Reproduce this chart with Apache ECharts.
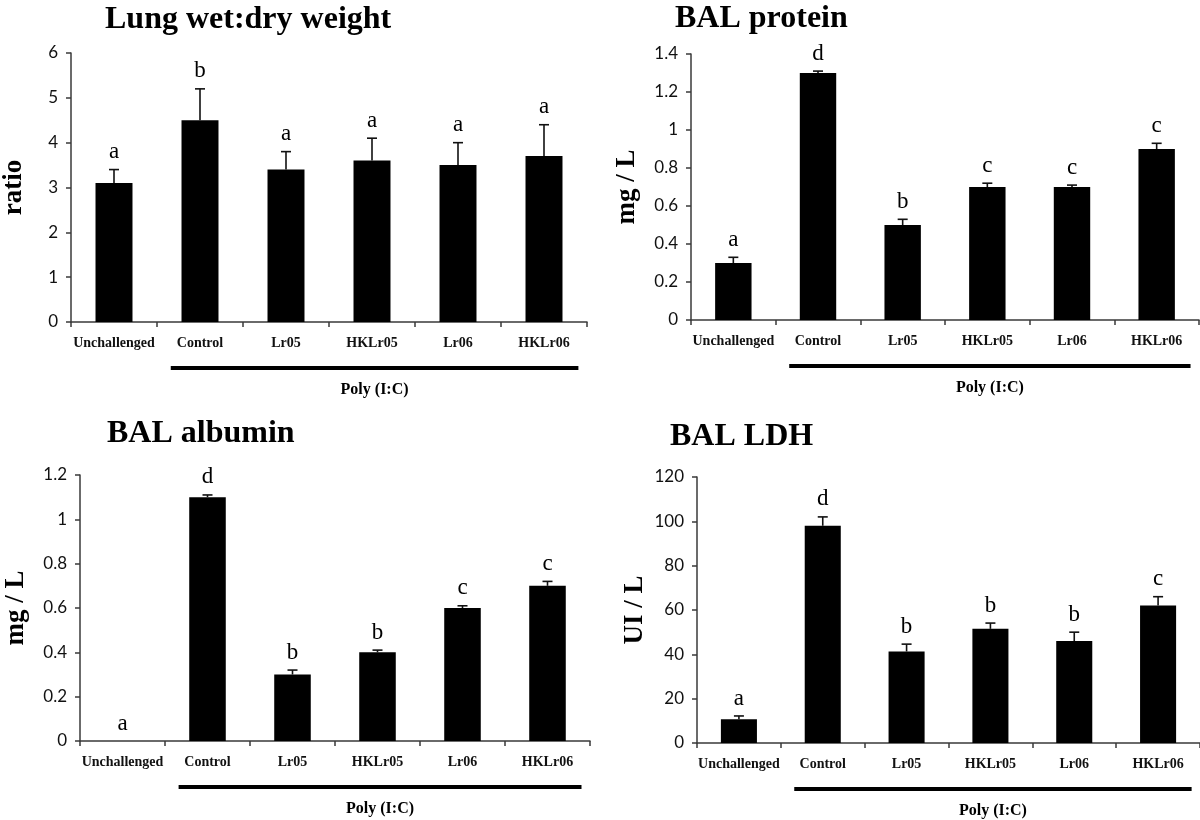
<!DOCTYPE html>
<html>
<head>
<meta charset="utf-8">
<script src="https://cdn.jsdelivr.net/npm/echarts@6/dist/echarts.min.js"></script>
<style>
html,body{margin:0;padding:0;background:#fff;}
#c{width:1200px;height:820px;}
</style>
</head>
<body>
<div id="c"></div>
<script>
// ---- data ----
const categories = ['Unchallenged', 'Control', 'Lr05', 'HKLr05', 'Lr06', 'HKLr06'];
const groupLabel = 'Poly (I:C)';

const titles = ['Lung wet:dry weight', 'BAL protein', 'BAL albumin', 'BAL LDH'];
const yNames = ['ratio', 'mg / L', 'mg / L', 'UI / L'];

const wetDryMean = [3.1, 4.5, 3.4, 3.6, 3.5, 3.7];
const wetDryErr = [0.3, 0.7, 0.4, 0.5, 0.5, 0.7];
const wetDryLetters = ['a', 'b', 'a', 'a', 'a', 'a'];

const proteinMean = [0.3, 1.3, 0.5, 0.7, 0.7, 0.9];
const proteinErr = [0.03, 0.01, 0.03, 0.02, 0.01, 0.03];
const proteinLetters = ['a', 'd', 'b', 'c', 'c', 'c'];

const albuminMean = [0, 1.1, 0.3, 0.4, 0.6, 0.7];
const albuminErr = [0, 0.01, 0.02, 0.01, 0.01, 0.02];
const albuminLetters = ['a', 'd', 'b', 'b', 'c', 'c'];

const ldhMean = [10.7, 98, 41.3, 51.5, 46, 62];
const ldhErr = [1.5, 4, 3.3, 2.6, 4, 4];
const ldhLetters = ['a', 'd', 'b', 'b', 'b', 'c'];

// y-axis ticks: [min, max, interval]
const wetDryTicks = [0, 6, 1];
const proteinTicks = [0, 1.4, 0.2];
const albuminTicks = [0, 1.2, 0.2];
const ldhTicks = [0, 120, 20];

// ---- layout / style ----
const SERIF = '"Liberation Serif", "Times New Roman", serif';
const SANS = 'Lato, Calibri, sans-serif';
const panels = [
  {mean: wetDryMean, err: wetDryErr, letters: wetDryLetters, ticks: wetDryTicks,
   grid: {left: 67, right: 613, top: 53, bottom: 498}, title: {left: 105, top: 4}, nameGap: 43},
  {mean: proteinMean, err: proteinErr, letters: proteinLetters, ticks: proteinTicks,
   grid: {left: 691, right: 1, top: 54, bottom: 500}, title: {left: 675, top: 3}, nameGap: 50},
  {mean: albuminMean, err: albuminErr, letters: albuminLetters, ticks: albuminTicks,
   grid: {left: 80, right: 610, top: 475, bottom: 79}, title: {left: 107, top: 418}, nameGap: 50},
  {mean: ldhMean, err: ldhErr, letters: ldhLetters, ticks: ldhTicks,
   grid: {left: 697, right: -2, top: 477, bottom: 77}, title: {left: 670, top: 421}, nameGap: 48}
];

const axisColor = '#3a3a3a';
const chart = echarts.init(document.getElementById('c'), null, {renderer: 'canvas'});

function errRender(letters) {
  return function (params, api) {
    const i = api.value(0), m = api.value(1), e = api.value(2);
    const base = api.coord([i, m]);
    const top = api.coord([i, m + e]);
    const children = [];
    if (e > 0) {
      children.push({type: 'line', shape: {x1: base[0], y1: base[1], x2: top[0], y2: top[1]},
        style: {stroke: '#111', lineWidth: 1.6}});
      children.push({type: 'line', shape: {x1: top[0] - 5, y1: top[1], x2: top[0] + 5, y2: top[1]},
        style: {stroke: '#111', lineWidth: 1.6}});
    }
    children.push({type: 'text', x: top[0], y: top[1] - 6,
      style: {text: letters[params.dataIndex], align: 'center', verticalAlign: 'bottom',
        fontFamily: SERIF, fontSize: 23, fill: '#000'}});
    return {type: 'group', children};
  };
}

const option = {
  backgroundColor: '#fff',
  animation: false,
  title: panels.map((p, k) => ({
    text: titles[k], left: p.title.left, top: p.title.top, padding: 0,
    textStyle: {fontFamily: SERIF, fontWeight: 'bold', fontSize: 32, color: '#000'}
  })),
  grid: panels.map(p => Object.assign({containLabel: false}, p.grid)),
  xAxis: panels.map((p, k) => ({
    type: 'category', gridIndex: k, data: categories,
    axisLine: {lineStyle: {color: axisColor, width: 1.5}},
    axisTick: {show: true, length: 5, lineStyle: {color: axisColor, width: 1.5}},
    axisLabel: {interval: 0, margin: 14, fontFamily: SERIF, fontWeight: 'bold', fontSize: 14, color: '#111'},
    splitLine: {show: false}
  })),
  yAxis: panels.map((p, k) => ({
    type: 'value', gridIndex: k, min: p.ticks[0], max: p.ticks[1], interval: p.ticks[2],
    name: yNames[k], nameLocation: 'middle', nameRotate: 90, nameGap: p.nameGap,
    nameTextStyle: {fontFamily: SERIF, fontWeight: 'bold', fontSize: 27, color: '#000'},
    axisLine: {show: true, lineStyle: {color: axisColor, width: 1.5}},
    axisTick: {show: true, length: 5, lineStyle: {color: axisColor, width: 1.5}},
    axisLabel: {margin: 13, fontFamily: SANS, fontSize: 17, color: '#111'},
    splitLine: {show: false}
  })),
  series: []
};

panels.forEach((p, k) => {
  option.series.push({
    type: 'bar', xAxisIndex: k, yAxisIndex: k, data: p.mean,
    barWidth: '43%', itemStyle: {color: '#000'}, z: 2
  });
  option.series.push({
    type: 'custom', xAxisIndex: k, yAxisIndex: k,
    data: p.mean.map((v, i) => [i, v, p.err[i]]),
    encode: {x: 0, y: 1},
    renderItem: errRender(p.letters), z: 3
  });
});

chart.setOption(option);

// group bracket under the Poly (I:C) categories, positioned from the axes
const graphics = [];
panels.forEach((p, k) => {
  const c1 = chart.convertToPixel({xAxisIndex: k, yAxisIndex: k}, [1, 0]);
  const c5 = chart.convertToPixel({xAxisIndex: k, yAxisIndex: k}, [5, 0]);
  const cw = (c5[0] - c1[0]) / 4;
  const x1 = c1[0] - 0.34 * cw, x2 = c5[0] + 0.4 * cw;
  const y0 = c1[1];
  graphics.push({type: 'line', shape: {x1, y1: y0 + 46, x2, y2: y0 + 46},
    style: {stroke: '#000', lineWidth: 4}});
  graphics.push({type: 'text', x: (x1 + x2) / 2, y: y0 + 68,
    style: {text: groupLabel, align: 'center', verticalAlign: 'middle',
      fontFamily: SERIF, fontWeight: 'bold', fontSize: 16, fill: '#000'}});
});
chart.setOption({graphic: graphics});
</script>
</body>
</html>
